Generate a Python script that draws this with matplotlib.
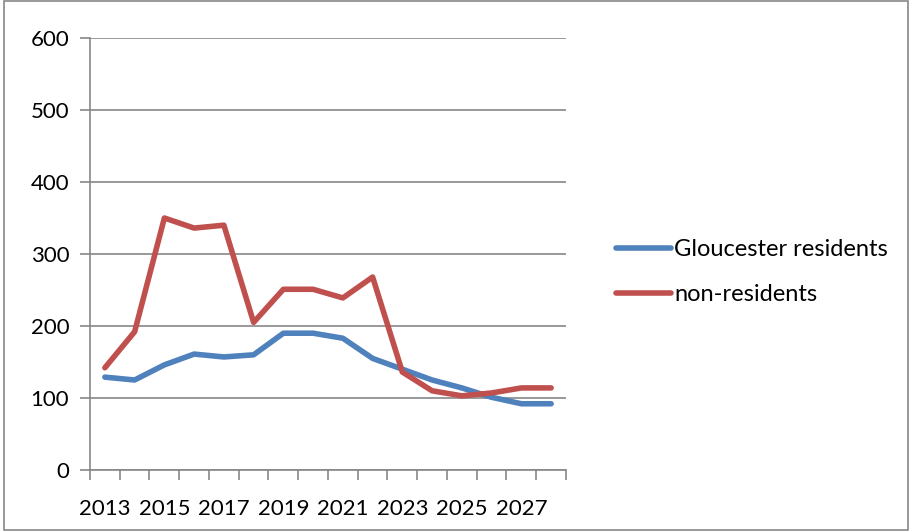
import matplotlib
matplotlib.use('Agg')
import matplotlib.pyplot as plt
import numpy as np

years = list(range(2013, 2029))
gloucester = [129, 125, 146, 161, 157, 160, 190, 190, 183, 155, 140, 125, 114, 101, 92, 92]
non_residents = [142, 192, 350, 336, 340, 205, 251, 251, 239, 268, 136, 110, 103, 107, 114, 114]

plt.rcParams['font.family'] = ['Lato', 'DejaVu Sans']

fig = plt.figure(figsize=(9.12, 5.31), dpi=100)
ax = fig.add_axes([90/912, (531-470)/531, (566-90)/912, (470-38)/531])

x = np.arange(len(years))
ax.plot(x, gloucester, color='#4F81BD', lw=4, solid_capstyle='round', solid_joinstyle='round',
        label='Gloucester residents')
ax.plot(x, non_residents, color='#C0504D', lw=4, solid_capstyle='round', solid_joinstyle='round',
        label='non-residents')

ax.set_xlim(-0.5, len(years) - 0.5)
ax.set_ylim(0, 600)
ax.set_yticks(range(0, 601, 100))
ax.grid(axis='y', color='#878787', lw=1.2)
ax.set_axisbelow(True)

# category axis: ticks between categories, labels every other year
ax.set_xticks(np.arange(-0.5, len(years), 1.0))
ax.set_xticklabels([])
ax.set_xticks(x[::2], minor=True)
ax.set_xticklabels([str(y) for y in years[::2]], minor=True)
ax.tick_params(axis='x', which='major', length=7, color='#878787', width=1.2)
ax.tick_params(axis='x', which='minor', length=0, pad=21, labelsize=16)
ax.tick_params(axis='y', length=7, color='#878787', width=1.2, labelsize=16, pad=8)

for s in ['top', 'right']:
    ax.spines[s].set_visible(False)
for s in ['left', 'bottom']:
    ax.spines[s].set_color('#878787')
    ax.spines[s].set_linewidth(1.2)

fig.legend(loc='center left', bbox_to_anchor=(595/912, 1 - 272/531), frameon=False,
           fontsize=17, handlelength=2.3, handletextpad=0.15, labelspacing=1.0)

# outer chart border
fig.patches.append(plt.Rectangle((0.004, 0.002), 0.992, 0.996, transform=fig.transFigure,
                                 fill=False, edgecolor='#878787', lw=1.2))

fig.savefig('out.png', dpi=100)
